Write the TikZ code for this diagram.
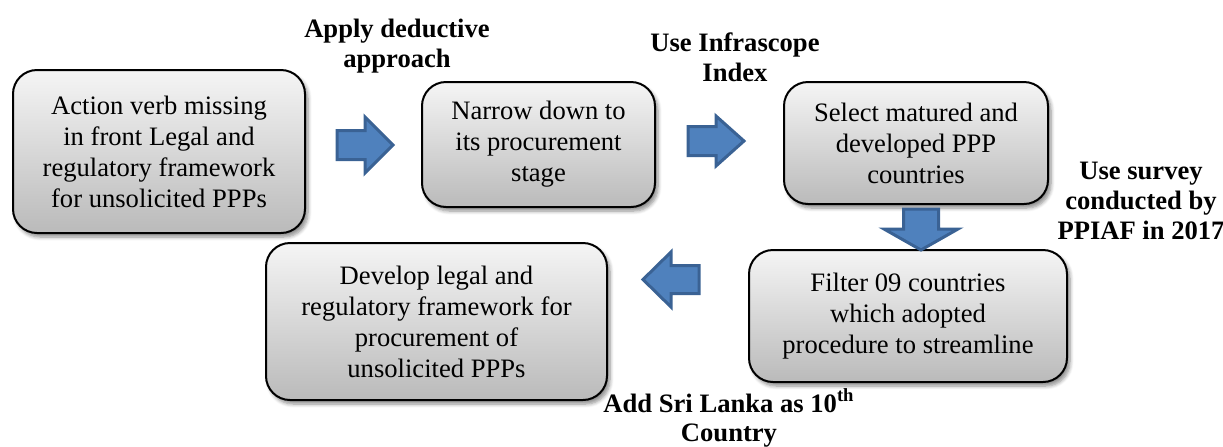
\documentclass[tikz,border=0pt]{standalone}
\usepackage{fontspec}
\setmainfont{Liberation Serif}
\usetikzlibrary{shadows.blur}
\definecolor{arrowfill}{HTML}{4F81BD}
\definecolor{arrowedge}{HTML}{3A6294}
\tikzset{
  stagebox/.style={draw=black, line width=1pt, rounded corners=12pt,
    top color=black!4, bottom color=black!27, align=center, inner sep=0pt,
    font=\fontsize{13.3}{15.5}\selectfont,
    blur shadow={shadow xshift=1.5pt, shadow yshift=-2pt,
      shadow blur steps=6, shadow opacity=45}},
  notelabel/.style={align=center, font=\bfseries\fontsize{13.3}{14.8}\selectfont},
  blockarrow/.style={fill=arrowfill, draw=arrowedge, line width=1.5pt, line join=miter}
}
% block arrow: centre x, centre y, rotation, length, head width, shaft width, head length
\newcommand\flowarrow[7]{%
  \draw[blockarrow, shift={(#1,#2)}, rotate=#3]
    ({-#4/2},{-#6/2}) -- ({#4/2-#7},{-#6/2}) -- ({#4/2-#7},{-#5/2})
    -- ({#4/2},0) -- ({#4/2-#7},{#5/2}) -- ({#4/2-#7},{#6/2})
    -- ({-#4/2},{#6/2}) -- cycle;}
\begin{document}
\begin{tikzpicture}[x=0.5pt, y=-0.5pt]
  \useasboundingbox (0,0) rectangle (1223,446);

  % process stages
  \node[stagebox, minimum width=146pt, minimum height=81.5pt] (legal) at (159,151.5)
    {Action verb missing\\in front Legal and\\regulatory framework\\for unsolicited PPPs};
  \node[stagebox, minimum width=116.5pt, minimum height=62.5pt] (narrow) at (538.5,144.5)
    {Narrow down to\\its procurement\\stage};
  \node[stagebox, minimum width=132pt, minimum height=61pt] (select) at (916,143)
    {Select matured and\\developed PPP\\countries};
  \node[stagebox, minimum width=159pt, minimum height=66pt] (filter) at (908,316)
    {Filter 09 countries\\which adopted\\procedure to streamline};
  \node[stagebox, minimum width=170.5pt, minimum height=78.5pt] (develop) at (436.5,321.5)
    {Develop legal and\\regulatory framework for\\procurement of\\unsolicited PPPs};

  % arrows between stages
  \flowarrow{365}{145}{0}{56}{56}{29}{28}
  \flowarrow{716}{141}{0}{56}{50}{29}{28}
  \flowarrow{921}{229.5}{-90}{41}{74}{35}{21}
  \flowarrow{671}{279.5}{180}{56}{55}{28}{28}

  % method notes
  \node[notelabel] (deductive) at (397,46) {Apply deductive\\approach};
  \node[notelabel] (infrascope) at (735,57) {Use Infrascope\\Index};
  \node[notelabel] (survey) at (1141,201) {Use survey\\conducted by\\PPIAF in 2017};
  \node[notelabel] (srilanka) at (729,418) {Add Sri Lanka as 10\textsuperscript{th}\\Country};
\end{tikzpicture}
\end{document}
